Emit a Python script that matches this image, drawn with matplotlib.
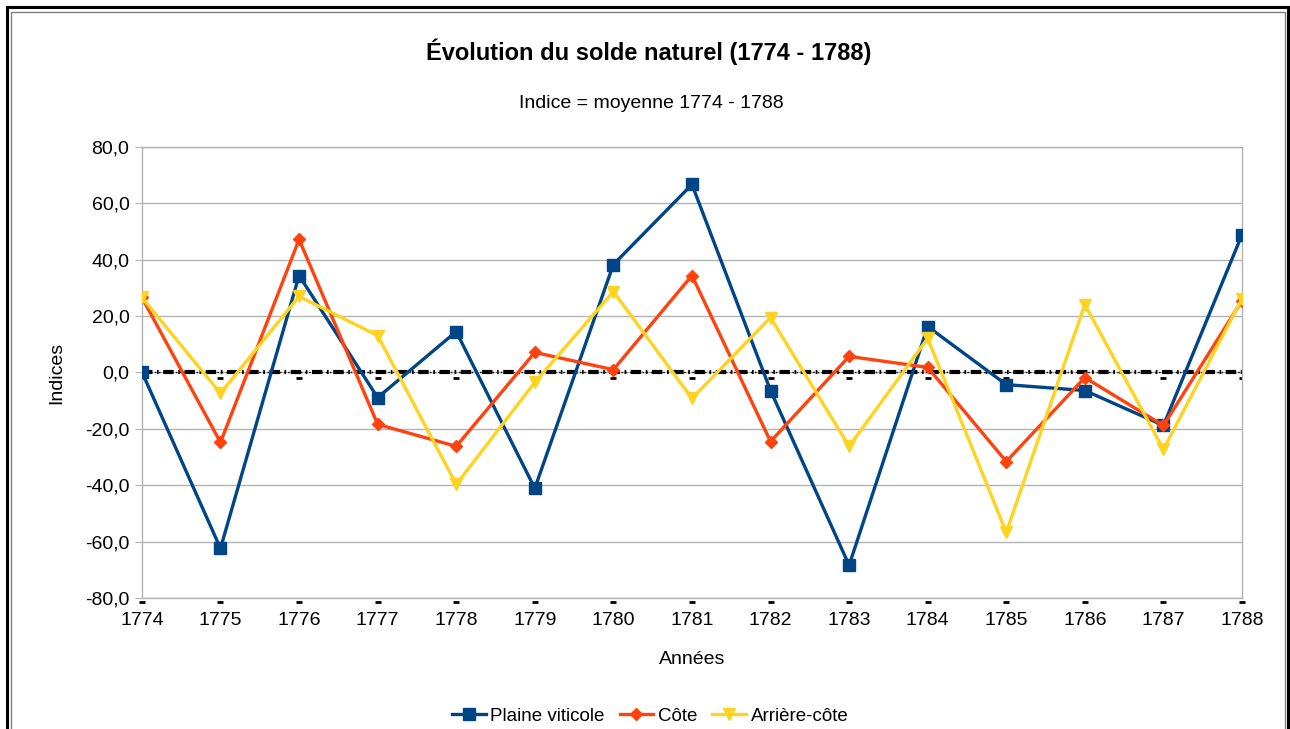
import matplotlib
matplotlib.use("Agg")
import matplotlib.pyplot as plt
import matplotlib.ticker as mticker
from matplotlib.patches import Rectangle

plt.rcParams.update({
    "font.family": ["Liberation Sans", "DejaVu Sans"],
    "font.size": 14,
})

# --- data ---
years = [1774, 1775, 1776, 1777, 1778, 1779, 1780, 1781,
         1782, 1783, 1784, 1785, 1786, 1787, 1788]
plaine = [0.2, -62.4, 34.4, -8.9, 14.5, -41.1, 38.3, 66.7,
          -6.4, -68.4, 16.3, -4.3, -6.4, -18.8, 48.9]
cote = [26.6, -24.8, 47.2, -18.4, -26.2, 7.1, 1.0, 34.4,
        -24.5, 5.7, 1.8, -31.6, -1.8, -18.8, 25.5]
arriere = [26.6, -7.4, 27.0, 13.1, -39.7, -3.5, 28.7, -9.2,
           19.5, -26.2, 12.1, -56.7, 24.1, -27.3, 26.2]
ref_level = [0.0] * len(years)

BLUE = "#004586"
ORANGE = "#ff420e"
YELLOW = "#ffd320"
GRID = "#b3b3b3"

fig = plt.figure(figsize=(12.9, 7.29), dpi=100)
ax = fig.add_axes([0.110, 0.1797, 0.8528, 0.6187])

# frame around the whole picture (double border)
fig.patches.append(Rectangle((7 / 1290, -0.05), (1288 - 7) / 1290, 1 - 7 / 729 + 0.05,
                             transform=fig.transFigure, fill=False,
                             edgecolor="black", linewidth=2.2))
fig.patches.append(Rectangle((11 / 1290, -0.05), (1285 - 11) / 1290, 1 - 12 / 729 + 0.05,
                             transform=fig.transFigure, fill=False,
                             edgecolor="#808080", linewidth=1.0))

x = list(range(len(years)))

# reference line at 0 (index = mean)
ax.axhline(0, color="black", linewidth=1.0, linestyle=(0, (1, 2)), zorder=2)
ax.plot(x, ref_level, color="black", linewidth=3.0,
        linestyle=(0, (2.5, 1.1, 0.4, 1.1)), zorder=2)
# small tick-like dashes of the hidden series
ax.plot(x, [v - 2 for v in ref_level], linestyle="none", marker="_",
        markersize=5, markeredgewidth=2, color="black", zorder=2)
ax.plot(x, [-81.5] * len(x), linestyle="none", marker="_",
        markersize=5, markeredgewidth=2, color="black", zorder=2, clip_on=False)

ax.plot(x, plaine, color=BLUE, linewidth=2.4, marker="s", markersize=8,
        label="Plaine viticole", zorder=3)
ax.plot(x, cote, color=ORANGE, linewidth=2.4, marker="D", markersize=6,
        label="Côte", zorder=4)
ax.plot(x, arriere, color=YELLOW, linewidth=2.4, marker="v", markersize=9,
        label="Arrière-côte", zorder=5)

ax.set_xlim(0, len(years) - 1)
ax.set_ylim(-80, 80)
ax.set_xticks(x)
ax.set_xticklabels([str(y) for y in years])
ax.yaxis.set_major_locator(mticker.MultipleLocator(20))
ax.yaxis.set_major_formatter(mticker.FuncFormatter(lambda v, p: f"{v:.1f}".replace(".", ",")))
ax.tick_params(axis="y", length=5, color=GRID, labelsize=14, pad=4)
ax.tick_params(axis="x", length=0, labelsize=14, pad=10)
ax.grid(axis="y", color=GRID, linewidth=1.0, zorder=0)
for s in ax.spines.values():
    s.set_color(GRID)
    s.set_linewidth(1.0)

ax.set_xlabel("Années", fontsize=14, labelpad=16)
ax.set_ylabel("Indices", fontsize=14, labelpad=14)

fig.text(0.503, 1 - 52 / 729, "Évolution du solde naturel (1774 - 1788)",
         ha="center", va="center", fontsize=17, fontweight="bold")
fig.text(0.505, 1 - 103 / 729, "Indice = moyenne 1774 - 1788",
         ha="center", va="center", fontsize=14)

fig.legend(loc="center", bbox_to_anchor=(0.504, 1 - 716 / 729), ncol=3,
           frameon=False, fontsize=13.5, handlelength=1.8, handletextpad=0.25,
           columnspacing=0.8)

fig.savefig("out.png", dpi=100)
plt.close(fig)
